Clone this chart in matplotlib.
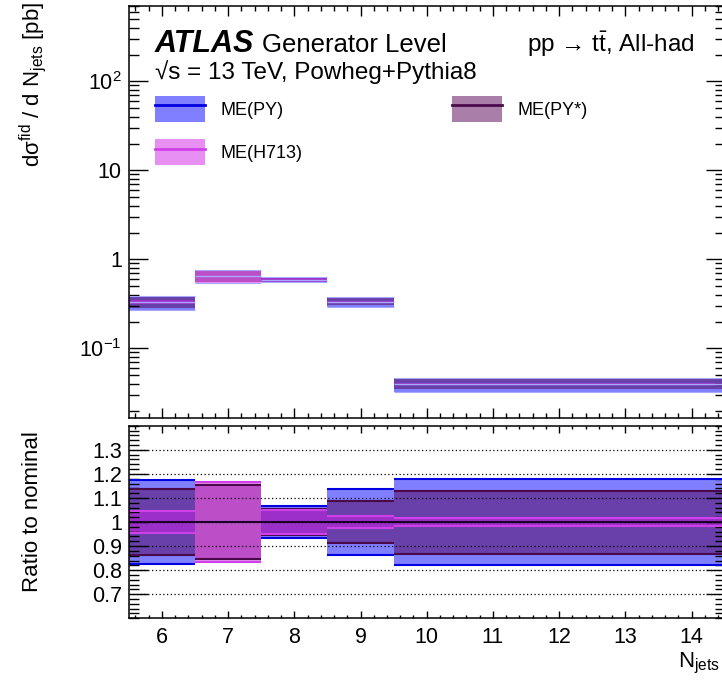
import numpy as np
import matplotlib
matplotlib.use("Agg")
import matplotlib.pyplot as plt
from matplotlib.patches import Patch
from matplotlib.lines import Line2D
from matplotlib.ticker import (FixedLocator, MultipleLocator, LogLocator,
                               FuncFormatter, NullFormatter, FormatStrFormatter)

plt.rcParams["font.family"] = ["Liberation Sans", "DejaVu Sans"]
plt.rcParams["mathtext.fontset"] = "custom"
plt.rcParams["mathtext.rm"] = "Liberation Sans"
plt.rcParams["mathtext.it"] = "Liberation Sans:italic"
plt.rcParams["mathtext.bf"] = "Liberation Sans:bold"

# data
bin_edges = [5.5, 6.5, 7.5, 8.5, 9.5, 14.5]
nominal = [0.330, 0.655, 0.590, 0.335, 0.0397]
# relative half-width of each sample's band (ratio to nominal)
err_py = [0.175, np.nan, 0.065, 0.139, 0.180]
err_pystar = [0.137, 0.152, 0.053, 0.088, 0.131]
err_h713 = [0.045, 0.165, 0.048, 0.024, 0.016]
labels = ["ME(PY)", "ME(PY*)", "ME(H713)"]
xticks = [6, 7, 8, 9, 10, 11, 12, 13, 14]
ratio_ticks = [0.7, 0.8, 0.9, 1.0, 1.1, 1.2, 1.3]

samples = [
    (labels[0], err_py, "#0000ff", "#0000e0"),
    (labels[1], err_pystar, "#550055", "#4a0a4a"),
    (labels[2], err_h713, "#d020e8", "#d040e8"),
]

W, H = 722, 681
fig = plt.figure(figsize=(W / 100, H / 100), dpi=100)


def frac(x0, y0, x1, y1):
    return [x0 / W, 1 - y1 / H, (x1 - x0) / W, (y1 - y0) / H]


ax = fig.add_axes(frac(128.8, 6.1, 724.6, 418))
rax = fig.add_axes(frac(128.8, 425.8, 724.6, 618.3))

lo = np.array(bin_edges[:-1])
hi = np.array(bin_edges[1:])
width = hi - lo
nom = np.array(nominal)

for label, err, fc, lc in samples:
    err = np.array(err)
    ok = np.isfinite(err)
    ax.bar(lo[ok], (2 * err * nom)[ok], bottom=(nom * (1 - err))[ok],
           width=width[ok], align="edge", color=fc, alpha=0.5, lw=0)
    rax.bar(lo[ok], 2 * err[ok], bottom=1 - err[ok], width=width[ok],
            align="edge", color=fc, alpha=0.5, lw=0)
    rax.hlines(1 + err[ok], lo[ok], hi[ok], color=lc, lw=1.5)
    rax.hlines(1 - err[ok], lo[ok], hi[ok], color=lc, lw=1.5)

# light outline of the outermost band and the central value in the top panel
outer = np.fmax(np.fmax(np.array(err_py), np.array(err_pystar)), np.array(err_h713))
ax.hlines(nom * (1 + outer), lo, hi, color="#a8a8ff", lw=0.8)
ax.hlines(nom * (1 - outer), lo, hi, color="#a8a8ff", lw=0.8)
ax.hlines(nom, lo, hi, color="#a8a8ff", lw=1)
rax.hlines(nom / nom, lo, hi, color="#200030", lw=1.5)

for g in ratio_ticks:
    rax.axhline(g, color="k", ls=(0, (1, 2)), lw=0.9, zorder=3)

# top panel axes
ax.set_yscale("log")
ax.set_xlim(5.5, 14.5)
ax.set_ylim(0.0165, 700)


def logfmt(v, pos):
    e = int(round(np.log10(v)))
    if e == 0:
        return "1"
    if e == 1:
        return "10"
    return r"$10^{%d}$" % e if e > 0 else r"$10^{-%d}$" % (-e)


ax.yaxis.set_major_locator(LogLocator(base=10, numticks=10))
ax.yaxis.set_minor_locator(LogLocator(base=10, subs=np.arange(2, 10), numticks=20))
ax.yaxis.set_major_formatter(FuncFormatter(logfmt))
ax.yaxis.set_minor_formatter(NullFormatter())
ax.xaxis.set_major_locator(FixedLocator(xticks))
ax.xaxis.set_minor_locator(MultipleLocator(0.2))
ax.tick_params(axis="both", which="both", direction="in", top=True, right=True,
               width=1, labelsize=15.5, pad=5)
ax.tick_params(axis="y", which="major", length=13.7)
ax.tick_params(axis="y", which="minor", length=7.2)
ax.tick_params(axis="x", which="major", length=7.2)
ax.tick_params(axis="x", which="minor", length=3.6)
ax.tick_params(labelbottom=False)

# ratio panel axes
rax.set_xlim(5.5, 14.5)
rax.set_ylim(0.6, 1.4)
rax.yaxis.set_major_locator(FixedLocator(ratio_ticks))
rax.yaxis.set_major_formatter(FormatStrFormatter("%g"))
rax.yaxis.set_minor_locator(MultipleLocator(0.02))
rax.xaxis.set_major_locator(FixedLocator(xticks))
rax.xaxis.set_minor_locator(MultipleLocator(0.2))
rax.tick_params(axis="both", which="both", direction="in", top=True, right=True,
                width=1, labelsize=15.5, pad=5)
rax.tick_params(axis="y", which="major", length=13.7)
rax.tick_params(axis="y", which="minor", length=7.2)
rax.tick_params(axis="x", which="major", length=5)
rax.tick_params(axis="x", which="minor", length=2.5)
rax.tick_params(axis="x", pad=6)

for a in (ax, rax):
    for s in a.spines.values():
        s.set_linewidth(1.1)

# legend
handles = [(Patch(facecolor=fc, alpha=0.5, lw=0), Line2D([], [], color=lc, lw=2))
           for _, _, fc, lc in samples]
leg_kw = dict(frameon=False, fontsize=13, borderpad=0, borderaxespad=0,
              handlelength=2.78, handleheight=1.85, handletextpad=0.83,
              labelspacing=0.95, bbox_transform=fig.transFigure, loc="upper left")
leg1 = ax.legend([handles[0], handles[2]], [labels[0], labels[2]],
                 bbox_to_anchor=(155 / W, 1 - 96 / H), **leg_kw)
ax.add_artist(leg1)
ax.legend([handles[1]], [labels[1]], bbox_to_anchor=(452 / W, 1 - 96 / H), **leg_kw)

# labels
fig.text(155 / W, 1 - 52 / H, "ATLAS", fontsize=22, fontweight="bold",
         fontstyle="italic", va="baseline")
fig.text(262 / W, 1 - 52 / H, "Generator Level", fontsize=18.5, va="baseline")
fig.text(155 / W, 1 - 79 / H, "√s = 13 TeV, Powheg+Pythia8",
         fontsize=17.5, va="baseline")
fig.text(527 / W, 1 - 52 / H, r"pp → t$\bar{\rm t}$, All-had", fontsize=17.5,
         va="baseline")
fig.text(33 / W, 1 - 2 / H, r"dσ$^{\rm fid}$ / d N$_{\rm jets}$ [pb]",
         fontsize=16, rotation=90, ha="center", va="top")
fig.text(33 / W, 1 - 512 / H, "Ratio to nominal", fontsize=16, rotation=90,
         ha="center", va="center")
fig.text(720 / W, 1 - 663 / H, r"N$_{\rm jets}$", fontsize=16, ha="right",
         va="center")

fig.savefig("out.png", dpi=100)
